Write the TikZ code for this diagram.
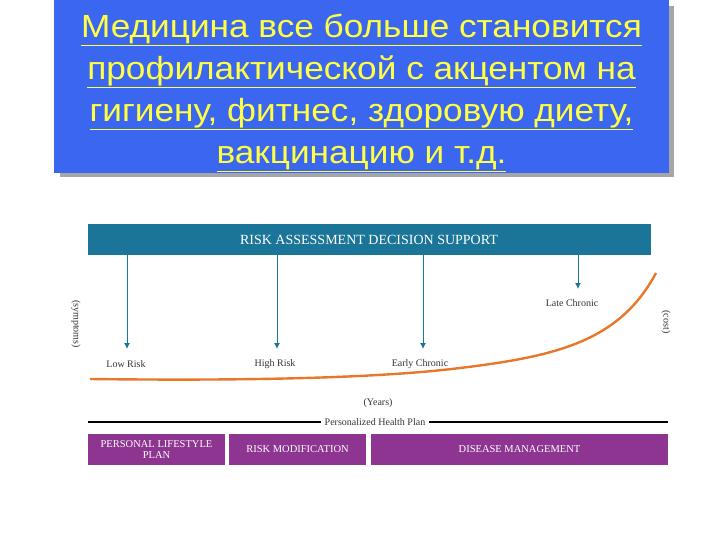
\documentclass[tikz,border=0pt]{standalone}
\usepackage{fontspec}
\setmainfont{Liberation Serif}
\newfontfamily\titlefont{Liberation Sans}
\usetikzlibrary{arrows.meta}
\definecolor{tealbar}{HTML}{1B7598}
\definecolor{purp}{HTML}{8E3592}
\definecolor{orng}{HTML}{E8772A}
\definecolor{bluebg}{HTML}{3A66F0}
\definecolor{yel}{HTML}{FFFF44}
\begin{document}
\begin{tikzpicture}[x=1pt,y=-1pt,
  bar/.style={fill=tealbar,draw=none},
  pbox/.style={fill=purp,draw=none},
  lbl/.style={font=\fontsize{10}{11}\selectfont,text=black!80},
  arr/.style={draw=tealbar,line width=1pt,-{Latex[length=6pt,width=6pt]}},
  ptxt/.style={text=white,font=\fontsize{10.5}{11.5}\selectfont,align=center},
  title/.style={font=\titlefont\fontsize{32}{42}\selectfont,text=yel,align=center}]
\useasboundingbox (0,0) rectangle (720,540);
% title
\fill[gray!70] (60,6) rectangle (674,177);
\fill[bluebg] (54,0) rectangle (669,173);
\node[title,xscale=1.1] (t) at (361.5,93) {\underline{Медицина все больше становится}\\\underline{профилактической с акцентом на}\\\underline{гигиену, фитнес, здоровую диету,}\\\underline{вакцинацию и т.д.}};
% top bar
\fill[bar] (88,224) rectangle (651,255);
\node[text=white,font=\fontsize{14}{16}\selectfont] (ra) at (369,240) {RISK ASSESSMENT DECISION SUPPORT};
\coordinate (a1) at (127,255); \coordinate (b1) at (127,349);
\coordinate (a2) at (277,255); \coordinate (b2) at (277,349);
\coordinate (a3) at (423,255); \coordinate (b3) at (423,349);
\coordinate (a4) at (578,255); \coordinate (b4) at (578,289);
\foreach \i in {1,...,4} \draw[arr] (a\i) -- (b\i);
\node[lbl] (lr) at (126,364) {Low Risk};
\node[lbl] (hr) at (275,364) {High Risk};
\node[lbl] (ec) at (420,364) {Early Chronic};
\node[lbl] (lc) at (572,303) {Late Chronic};
\node[lbl,rotate=-90] (sy) at (76,324) {(symptoms)};
\node[lbl,rotate=-90] (co) at (666,322) {(cost)};
% curve
\draw[orng,line width=2.4pt] (90,379) .. controls (250,381) and (380,378) .. (460,368) .. controls (560,356) and (620,340) .. (656,273);
\node[lbl] (yr) at (378,403) {(Years)};
% personalized line
\node[lbl,inner xsep=4pt] (ph) at (375,422) {Personalized Health Plan};
\coordinate (pl) at (88,422); \coordinate (pr) at (668,422);
\draw[line width=1.4pt] (pl) -- (ph.west);
\draw[line width=1.4pt] (ph.east) -- (pr);
% purple boxes
\fill[pbox] (88,434) rectangle (225,465);
\fill[pbox] (229,434) rectangle (366,465);
\fill[pbox] (371,434) rectangle (668,465);
\node[ptxt] (p1) at (156.5,449.5) {PERSONAL LIFESTYLE\\PLAN};
\node[ptxt] (p2) at (297.5,449.5) {RISK MODIFICATION};
\node[ptxt] (p3) at (519.5,449.5) {DISEASE MANAGEMENT};
\end{tikzpicture}
\end{document}
